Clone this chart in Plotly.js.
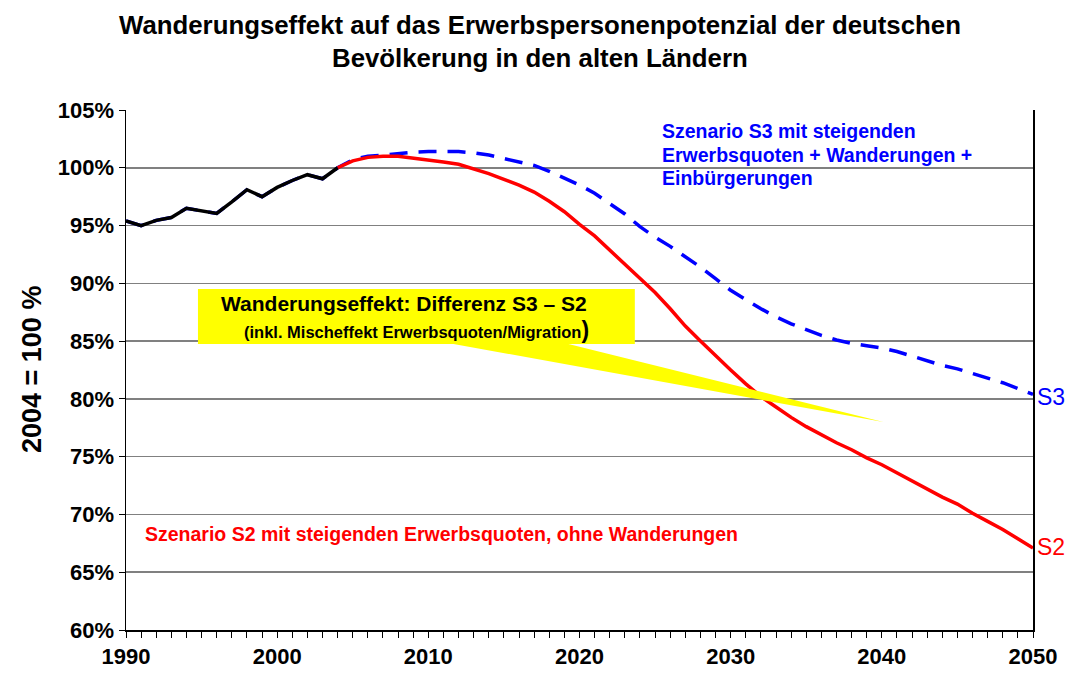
<!DOCTYPE html>
<html>
<head>
<meta charset="utf-8">
<script src="https://cdn.plot.ly/plotly-3.0.1.min.js"></script>
<style>html,body{margin:0;padding:0;background:#fff;}#chart{width:1068px;height:673px;}</style>
</head>
<body>
<div id="chart"></div>
<script>
// Historical values 1990-2004 (2004 = 100 %)
var histYears = [1990,1991,1992,1993,1994,1995,1996,1997,1998,1999,2000,2001,2002,2003,2004];
var histValues = [95.4,95.0,95.45,95.7,96.5,96.3,96.05,97.05,98.1,97.5,98.3,98.9,99.4,99.05,100.0];

// Projection years 2004-2050
var projYears = [];
for (var y = 2004; y <= 2050; y++) projYears.push(y);

// Szenario S3: steigende Erwerbsquoten + Wanderungen + Einbürgerungen
var s3Values = [100.0,100.7,101.0,101.1,101.25,101.35,101.4,101.4,101.4,101.3,101.1,100.8,100.5,100.2,99.7,99.1,
  98.5,97.8,96.9,96.0,94.9,94.0,93.2,92.3,91.4,90.4,89.4,88.6,87.8,87.1,86.5,86.0,85.5,85.1,84.8,84.6,
  84.4,84.1,83.7,83.3,82.9,82.6,82.2,81.8,81.4,80.9,80.4];

// Szenario S2: steigende Erwerbsquoten, ohne Wanderungen
var s2Values = [100.0,100.6,100.9,101.0,101.0,100.85,100.7,100.5,100.3,99.9,99.5,99.0,98.5,97.9,97.1,96.2,
  95.1,94.1,92.9,91.7,90.5,89.2,87.8,86.3,85.0,83.7,82.5,81.3,80.2,79.3,78.4,77.6,76.9,76.2,75.6,74.9,
  74.3,73.6,72.9,72.2,71.5,70.9,70.1,69.4,68.7,67.9,67.1];

var yTickVals = [60,65,70,75,80,85,90,95,100,105];
var yTickText = ["60%","65%","70%","75%","80%","85%","90%","95%","100%","105%"];
var xTickVals = [1990,2000,2010,2020,2030,2040,2050];

var FONT = "Liberation Sans, Arial, Helvetica, sans-serif";

var traces = [
  {x: histYears.concat(projYears.slice(1)), y: histValues.concat(s3Values.slice(1)), mode: "lines",
   line: {color: "#0000FF", width: 3.5, dash: "18px,11px"}, hoverinfo: "skip"},
  {x: projYears, y: s2Values, mode: "lines", line: {color: "#FF0000", width: 3.5}, hoverinfo: "skip"},
  {x: histYears, y: histValues, mode: "lines", line: {color: "#000000", width: 3.5}, hoverinfo: "skip"}
];

// helpers: pixel -> paper
function px(x){ return (x - 126) / 907; }
function py(y){ return (630 - y) / 520; }

var layout = {
  width: 1068, height: 673,
  paper_bgcolor: "#fff", plot_bgcolor: "#fff",
  showlegend: false,
  margin: {l: 126, r: 35, t: 110, b: 43},
  font: {family: FONT, color: "#000"},
  xaxis: {
    range: [1990, 2050], tickvals: xTickVals, ticktext: xTickVals.map(function(v){return "<b>"+v+"</b>";}),
    ticks: "outside", ticklen: 6, tickcolor: "#000", tickwidth: 1,
    minor: {dtick: 1, tick0: 1990, ticks: "outside", ticklen: 6, tickcolor: "#000", showgrid: false},
    showgrid: false, zeroline: false, showline: true, linecolor: "#000", linewidth: 1.5,
    tickfont: {family: FONT, size: 22, color: "#000"}
  },
  yaxis: {
    range: [60, 105], tickvals: yTickVals, ticktext: yTickText.map(function(v){return "<b>"+v+"</b>";}),
    ticks: "outside", ticklen: 6, tickcolor: "#000",
    showgrid: true, gridcolor: "#808080", gridwidth: 1.5, zeroline: false,
    showline: true, linecolor: "#000", linewidth: 1.5, mirror: true,
    tickfont: {family: FONT, size: 22, color: "#000"}
  },
  shapes: [
    {type: "path", xref: "x", yref: "y", path: "M 2011.3,84.84 L 2019.0,84.84 L 2040.1,78.0 Z",
     fillcolor: "#FFFF00", line: {width: 0}, layer: "above"},
    {type: "rect", xref: "x", yref: "y", x0: 1994.76, x1: 2023.66, y0: 84.75, y1: 89.52,
     fillcolor: "#FFFF00", line: {width: 0}, layer: "above"}
  ],
  annotations: [
    {xref: "paper", yref: "paper", x: px(540), y: py(25), xanchor: "center", yanchor: "middle", showarrow: false,
     text: "<b>Wanderungseffekt auf das Erwerbspersonenpotenzial der deutschen</b>",
     font: {family: FONT, size: 25.8, color: "#000"}},
    {xref: "paper", yref: "paper", x: px(540), y: py(58), xanchor: "center", yanchor: "middle", showarrow: false,
     text: "<b>Bevölkerung in den alten Ländern</b>",
     font: {family: FONT, size: 25.8, color: "#000"}},
    {xref: "paper", yref: "paper", x: px(32), y: py(370), xanchor: "center", yanchor: "middle", showarrow: false,
     textangle: -90, text: "<b>2004 = 100 %</b>", font: {family: FONT, size: 27, color: "#000"}},
    {xref: "paper", yref: "paper", x: px(404), y: py(303), xanchor: "center", yanchor: "middle", showarrow: false,
     text: "<b>Wanderungseffekt: Differenz S3 – S2</b>", font: {family: FONT, size: 21, color: "#000"}},
    {xref: "paper", yref: "paper", x: px(416), y: py(330), xanchor: "center", yanchor: "middle", showarrow: false,
     text: "<b>(inkl. Mischeffekt Erwerbsquoten/Migration<span style='font-size:23px'>)</span></b>",
     font: {family: FONT, size: 16.5, color: "#000"}},
    {xref: "paper", yref: "paper", x: px(660), y: py(131), xanchor: "left", yanchor: "middle",
     showarrow: false, text: "<b>Szenario S3 mit steigenden</b>", font: {family: FONT, size: 19.5, color: "#0000FF"}},
    {xref: "paper", yref: "paper", x: px(660), y: py(155), xanchor: "left", yanchor: "middle",
     showarrow: false, text: "<b>Erwerbsquoten + Wanderungen +</b>", font: {family: FONT, size: 19.5, color: "#0000FF"}},
    {xref: "paper", yref: "paper", x: px(660), y: py(178), xanchor: "left", yanchor: "middle",
     showarrow: false, text: "<b>Einbürgerungen</b>", font: {family: FONT, size: 19.5, color: "#0000FF"}},
    {xref: "paper", yref: "paper", x: px(143), y: py(534), xanchor: "left", yanchor: "middle",
     showarrow: false, text: "<b>Szenario S2 mit steigenden Erwerbsquoten, ohne Wanderungen</b>",
     font: {family: FONT, size: 19.5, color: "#FF0000"}},
    {xref: "paper", yref: "paper", x: px(1035), y: py(397), xanchor: "left", yanchor: "middle",
     showarrow: false, text: "S3", font: {family: FONT, size: 23, color: "#0000FF"}},
    {xref: "paper", yref: "paper", x: px(1035), y: py(547), xanchor: "left", yanchor: "middle",
     showarrow: false, text: "S2", font: {family: FONT, size: 23, color: "#FF0000"}}
  ]
};

Plotly.newPlot("chart", traces, layout, {displayModeBar: false, staticPlot: true});
</script>
</body>
</html>
